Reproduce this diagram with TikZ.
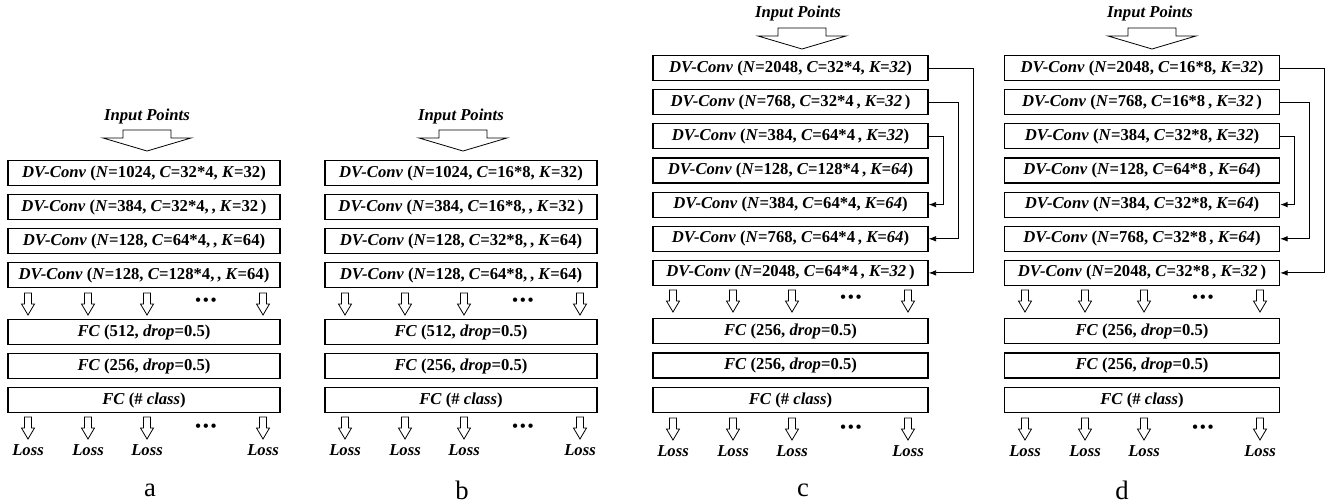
\documentclass[tikz,border=0pt]{standalone}
\usepackage{fontspec}
\setmainfont{Liberation Serif}
\usetikzlibrary{arrows.meta,positioning}
\tikzset{
  convBox/.style={draw, line width=0.9pt, minimum height=18.75pt, inner sep=0pt, font=\fontsize{12.5}{14}\selectfont\bfseries},
  abBox/.style={convBox, minimum width=204pt},
  cdBox/.style={convBox, minimum width=206.25pt},
  lossLabel/.style={font=\fontsize{12.5}{14}\selectfont\bfseries\itshape},
  inLabel/.style={font=\fontsize{12.5}{14}\selectfont\bfseries\itshape},
  dotsLabel/.style={font=\fontsize{12}{12}\selectfont\bfseries, inner sep=0pt, anchor=base},
  panelLabel/.style={font=\fontsize{20}{24}\selectfont},
  skipArrow/.style={-{Latex[length=2mm,width=1.5mm]}, line width=0.7pt},
  dnarrow/.pic={\draw[line width=0.6pt] (-3.5,0) -- (3.5,0) -- (3.5,11) -- (6.5,11) -- (0,22) -- (-6.5,11) -- (-3.5,11) -- cycle;},
  inarrow/.pic={\draw[line width=0.6pt] (-24,0) -- (24,0) -- (24,8) -- (44,8) -- (0,21) -- (-44,8) -- (-24,8) -- cycle;}
}
\newcommand{\dvc}{\textit{DV-Conv}}
\newcommand{\tridots}{•\kern1.6pt•\kern1.6pt•}

\begin{document}
\begin{tikzpicture}[x=0.75pt,y=-0.75pt]
  \useasboundingbox (0,0) rectangle (1325,503);
  % panel a
  \begin{scope}[shift={(8,0)}]
    \node[inLabel] (inA) at (139,116) {Input Points};
    \pic at (139,130) {inarrow};
    \node[abBox] (a1) at (136,173) {\dvc{} (\textit{N}=1024, \textit{C}=32*4, \textit{K}=32)};
    \node[abBox] (a2) at (136,207) {\dvc{} (\textit{N}=384, \textit{C}=32*4,\,, \textit{K}=32\,)};
    \node[abBox] (a3) at (136,241) {\dvc{} (\textit{N}=128, \textit{C}=64*4,\,, \textit{K}=64)};
    \node[abBox] (a4) at (136,275) {\dvc{} (\textit{N}=128, \textit{C}=128*4,\,, \textit{K}=64)};
    \foreach \x in {20,80,139,255} \pic at (\x,293) {dnarrow};
    \node[dotsLabel] (dotsA1) at (198,305) {\tridots};
    \node[abBox] (fcA1) at (136,332) {\textit{FC} (512, \textit{drop}=0.5)};
    \node[abBox] (fcA2) at (136,366) {\textit{FC} (256, \textit{drop}=0.5)};
    \node[abBox] (fcA3) at (136,400) {\textit{FC} (\# \textit{class})};
    \foreach \x in {20,80,139,255} \pic at (\x,417) {dnarrow};
    \node[dotsLabel] (dotsA2) at (198,431) {\tridots};
    \foreach \x/\n in {20/1,80/2,139/3,255/4} \node[lossLabel] (lossA\n) at (\x,450) {Loss};
    \node[panelLabel] (labA) at (142,490) {a};
  \end{scope}
  % panel b
  \begin{scope}[shift={(325,0)}]
    \node[inLabel] (inB) at (136,116) {Input Points};
    \pic at (138,130) {inarrow};
    \node[abBox] (b1) at (136,173) {\dvc{} (\textit{N}=1024, \textit{C}=16*8, \textit{K}=32)};
    \node[abBox] (b2) at (136,207) {\dvc{} (\textit{N}=384, \textit{C}=16*8,\,, \textit{K}=32\,)};
    \node[abBox] (b3) at (136,241) {\dvc{} (\textit{N}=128, \textit{C}=32*8,\,, \textit{K}=64)};
    \node[abBox] (b4) at (136,275) {\dvc{} (\textit{N}=128, \textit{C}=64*8,\,, \textit{K}=64)};
    \foreach \x in {20,80,139,255} \pic at (\x,293) {dnarrow};
    \node[dotsLabel] (dotsB1) at (198,305) {\tridots};
    \node[abBox] (fcB1) at (136,332) {\textit{FC} (512, \textit{drop}=0.5)};
    \node[abBox] (fcB2) at (136,366) {\textit{FC} (256, \textit{drop}=0.5)};
    \node[abBox] (fcB3) at (136,400) {\textit{FC} (\# \textit{class})};
    \foreach \x in {20,80,139,255} \pic at (\x,417) {dnarrow};
    \node[dotsLabel] (dotsB2) at (198,431) {\tridots};
    \foreach \x/\n in {20/1,80/2,139/3,255/4} \node[lossLabel] (lossB\n) at (\x,450) {Loss};
    \node[panelLabel] (labB) at (137,490) {b};
  \end{scope}
  % panel c
  \begin{scope}[shift={(653,0)}]
    \node[inLabel] (inC) at (145,13) {Input Points};
    \pic at (149,28) {inarrow};
    \node[cdBox] (c1) at (137.5,68) {\dvc{} (\textit{N}=2048, \textit{C}=32*4, \textit{K=32})};
    \node[cdBox] (c2) at (137.5,102.2) {\dvc{} (\textit{N}=768, \textit{C}=32*4\,, \textit{K=32}\,)};
    \node[cdBox] (c3) at (137.5,136.3) {\dvc{} (\textit{N}=384, \textit{C}=64*4\,, \textit{K=32})};
    \node[cdBox] (c4) at (137.5,170.5) {\dvc{} (\textit{N}=128, \textit{C}=128*4\,, \textit{K=64})};
    \node[cdBox] (c5) at (137.5,204.6) {\dvc{} (\textit{N}=384, \textit{C}=64*4, \textit{K=64})};
    \node[cdBox] (c6) at (137.5,238.8) {\dvc{} (\textit{N}=768, \textit{C}=64*4\,, \textit{K=64})};
    \node[cdBox] (c7) at (137.5,272.9) {\dvc{} (\textit{N}=2048, \textit{C}=64*4\,, \textit{K=32}\,)};
    \draw[skipArrow] (c1.east) -- ++(45,0) |- (c7.east);
    \draw[skipArrow] (c2.east) -- ++(30,0) |- (c6.east);
    \draw[skipArrow] (c3.east) -- ++(15,0) |- (c5.east);
    \foreach \x in {20,80,139,255} \pic at (\x,290) {dnarrow};
    \node[dotsLabel] (dotsC1) at (198,302) {\tridots};
    \node[cdBox] (fcC1) at (137.5,331) {\textit{FC} (256, \textit{drop}=0.5)};
    \node[cdBox] (fcC2) at (137.5,365.5) {\textit{FC} (256, \textit{drop}=0.5)};
    \node[cdBox] (fcC3) at (137.5,400) {\textit{FC} (\# \textit{class})};
    \foreach \x in {20,80,139,255} \pic at (\x,418) {dnarrow};
    \node[dotsLabel] (dotsC2) at (198,432) {\tridots};
    \foreach \x/\n in {20/1,80/2,139/3,255/4} \node[lossLabel] (lossC\n) at (\x,451) {Loss};
    \node[panelLabel] (labC) at (150,490) {c};
  \end{scope}
  % panel d
  \begin{scope}[shift={(1005,0)}]
    \node[inLabel] (inD) at (145,13) {Input Points};
    \pic at (147,28) {inarrow};
    \node[cdBox] (d1) at (137,68) {\dvc{} (\textit{N}=2048, \textit{C}=16*8, \textit{K=32})};
    \node[cdBox] (d2) at (137,102.2) {\dvc{} (\textit{N}=768, \textit{C}=16*8\,, \textit{K=32}\,)};
    \node[cdBox] (d3) at (137,136.3) {\dvc{} (\textit{N}=384, \textit{C}=32*8, \textit{K=32})};
    \node[cdBox] (d4) at (137,170.5) {\dvc{} (\textit{N}=128, \textit{C}=64*8\,, \textit{K=64})};
    \node[cdBox] (d5) at (137,204.6) {\dvc{} (\textit{N}=384, \textit{C}=32*8, \textit{K=64})};
    \node[cdBox] (d6) at (137,238.8) {\dvc{} (\textit{N}=768, \textit{C}=32*8\,, \textit{K=64})};
    \node[cdBox] (d7) at (137,272.9) {\dvc{} (\textit{N}=2048, \textit{C}=32*8\,, \textit{K=32}\,)};
    \draw[skipArrow] (d1.east) -- ++(44,0) |- (d7.east);
    \draw[skipArrow] (d2.east) -- ++(29,0) |- (d6.east);
    \draw[skipArrow] (d3.east) -- ++(14,0) |- (d5.east);
    \foreach \x in {20,80,139,255} \pic at (\x,290) {dnarrow};
    \node[dotsLabel] (dotsD1) at (198,302) {\tridots};
    \node[cdBox] (fcD1) at (137,331) {\textit{FC} (256, \textit{drop}=0.5)};
    \node[cdBox] (fcD2) at (137,365.5) {\textit{FC} (256, \textit{drop}=0.5)};
    \node[cdBox] (fcD3) at (137,400) {\textit{FC} (\# \textit{class})};
    \foreach \x in {20,80,139,255} \pic at (\x,418) {dnarrow};
    \node[dotsLabel] (dotsD2) at (198,432) {\tridots};
    \foreach \x/\n in {20/1,80/2,139/3,255/4} \node[lossLabel] (lossD\n) at (\x,451) {Loss};
    \node[panelLabel] (labD) at (117,490) {d};
  \end{scope}
\end{tikzpicture}
\end{document}
